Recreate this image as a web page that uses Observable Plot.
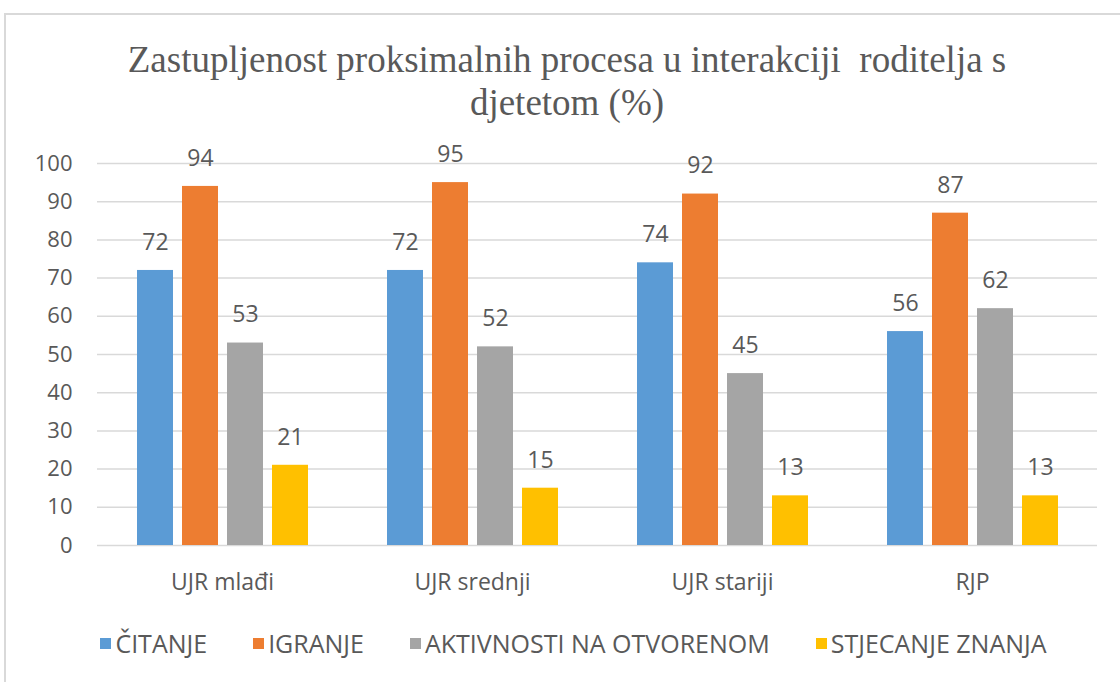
<!DOCTYPE html>
<html><head><meta charset="utf-8">
<script src="https://cdn.jsdelivr.net/npm/d3@7"></script>
<script src="https://cdn.jsdelivr.net/npm/@observablehq/plot@0.6"></script>
<style>
body{margin:0;background:#fff;width:1120px;height:682px;overflow:hidden;position:relative;font-family:"Open Sans",sans-serif;}
#frame{position:absolute;left:4px;top:13px;width:1200px;height:800px;border:2px solid #d9d9d9;}
#title{position:absolute;left:0;width:1134px;top:38px;text-align:center;font-family:"Liberation Serif","Times New Roman",serif;font-size:37px;line-height:43px;color:#595959;z-index:2;}
#chart{position:absolute;left:0;top:120px;}
#legend{position:absolute;top:627px;left:0;width:1147px;display:flex;justify-content:center;gap:46px;font-size:25px;color:#595959;line-height:32px;}
#legend .item{display:flex;align-items:center;gap:4px;}
#legend .sw{width:11px;height:11px;display:inline-block;}
</style></head>
<body>
<div id="frame"></div>
<div id="chart"></div>
<div id="title">Zastupljenost proksimalnih procesa u interakciji&nbsp; roditelja s<br>djetetom (%)</div>
<div id="legend"></div>
<script>
const groups = ["UJR mlađi", "UJR srednji", "UJR stariji", "RJP"];
const series = ["ČITANJE", "IGRANJE", "AKTIVNOSTI NA OTVORENOM", "STJECANJE ZNANJA"];
const citanje = [72, 72, 74, 56];
const igranje = [94, 95, 92, 87];
const aktivnosti = [53, 52, 45, 62];
const stjecanje = [21, 15, 13, 13];
const colors = ["#5B9BD5", "#ED7D31", "#A5A5A5", "#FFC000"];
const yTicks = [0, 10, 20, 30, 40, 50, 60, 70, 80, 90, 100];

const values = [citanje, igranje, aktivnosti, stjecanje];
const data = [];
groups.forEach((g, gi) => series.forEach((s, si) => data.push({group: g, series: s, value: values[si][gi]})));

const chart = Plot.plot({
  width: 1120, height: 490,
  marginLeft: 97, marginRight: 23, marginTop: 43, marginBottom: 65,
  style: {fontFamily: "Open Sans, sans-serif", fontSize: "22px", color: "#595959", background: "transparent"},
  fx: {domain: groups, padding: 0, label: null},
  x: {domain: series, paddingInner: 0.205, paddingOuter: 0.86, axis: null},
  y: {domain: [0, 100], label: null},
  color: {domain: series, range: colors},
  marks: [
    Plot.gridY(yTicks, {stroke: "#d9d9d9", strokeOpacity: 1, strokeWidth: 1.5}),
    Plot.axisY(yTicks, {tickSize: 0, tickPadding: 25, label: null, fontSize: 22}),
    Plot.barY(data, {fx: "group", x: "series", y: "value", fill: "series"}),
    Plot.text(data, {fx: "group", x: "series", y: "value", text: "value", dy: -28, fontSize: 23, fill: "#595959"}),
    Plot.axisFx({anchor: "bottom", tickSize: 0, tickPadding: 28, label: null, fontSize: 23})
  ]
});
document.getElementById("chart").appendChild(chart);

const legend = document.getElementById("legend");
series.forEach((s, i) => {
  const it = document.createElement("div"); it.className = "item";
  const sw = document.createElement("span"); sw.className = "sw"; sw.style.background = colors[i];
  const t = document.createElement("span"); t.textContent = s;
  it.appendChild(sw); it.appendChild(t); legend.appendChild(it);
});
</script>
</body></html>
